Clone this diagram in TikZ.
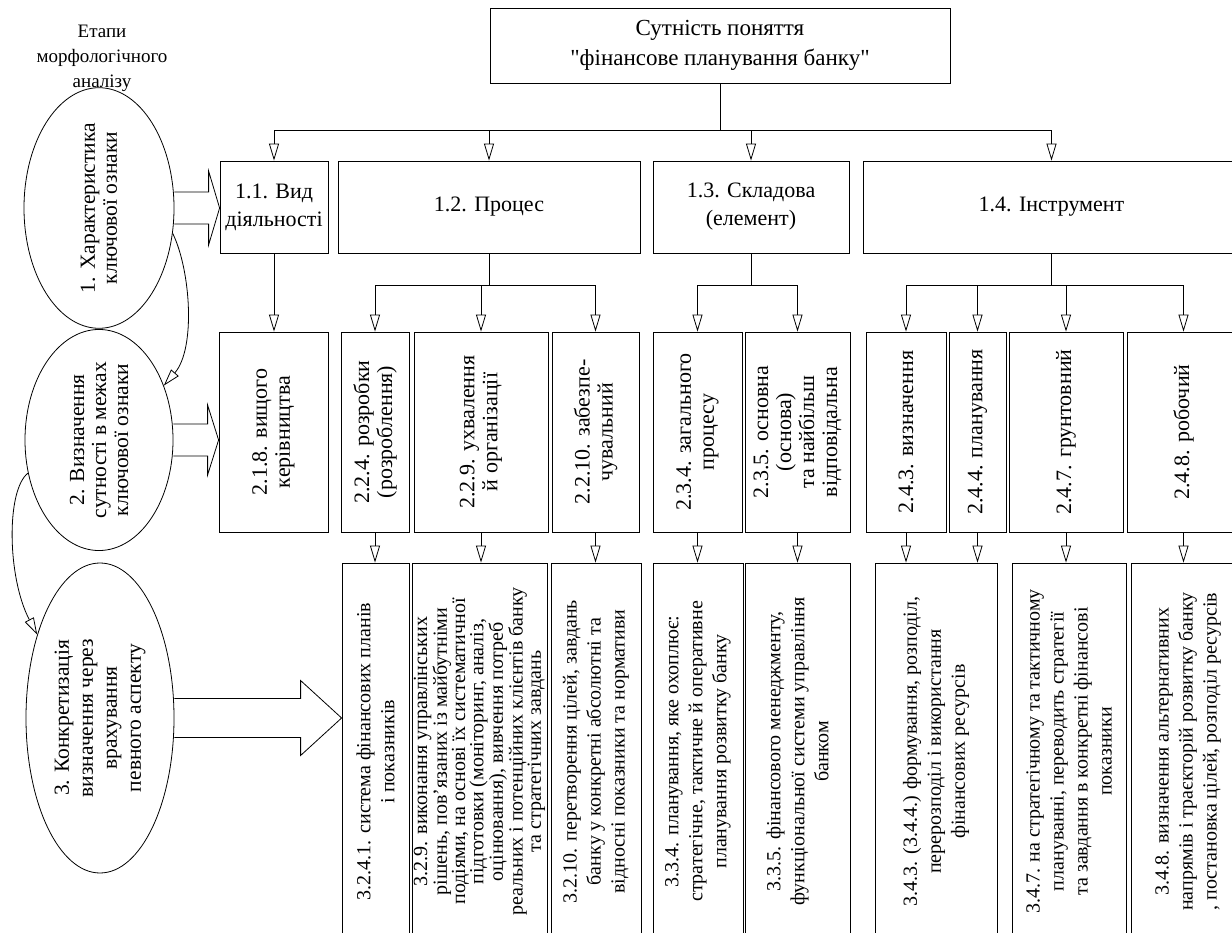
\documentclass[tikz,border=0pt]{standalone}
\usepackage{fontspec}
\setmainfont{Liberation Serif}[Ligatures=TeXOff]
\usetikzlibrary{arrows.meta, shapes.geometric, calc}

\begin{document}
\begin{tikzpicture}[x=1pt, y=-1pt,
  box/.style={draw, line width=0.8pt, inner sep=1pt, align=center},
  topbox/.style={box, minimum width=460pt, minimum height=75pt, font=\fontsize{23}{30}\selectfont},
  lvla/.style={box, minimum height=92pt, font=\fontsize{22}{28}\selectfont},
  lvlb/.style={box, rotate=90, minimum width=200pt, font=\fontsize{22}{23}\selectfont},
  lvlc/.style={box, rotate=90, minimum width=377pt, font=\fontsize{20}{24}\selectfont},
  stage/.style={draw, ellipse, line width=0.8pt, rotate=90, inner sep=0pt, align=center, font=\fontsize{21.5}{22}\selectfont},
  arr/.style={-{Triangle[open, length=17pt, width=10pt]}, line width=0.8pt},
  blk/.style={line width=0.8pt}]

\useasboundingbox (0,0) rectangle (1232,933);
\clip (0,0) rectangle (1232,933);

% stages of the analysis (rotated: south = right side)
\node[align=center, font=\fontsize{19}{25}\selectfont] (hdr) at (102,58) {Етапи\\морфологічного\\аналізу};
\node[stage, minimum width=216pt, minimum height=150pt] (e1) at (99,208) {1. Характеристика\\ключової ознаки};
\node[stage, minimum width=220pt, minimum height=148pt] (e2) at (99,440) {2. Визначення\\сутності в межах\\ключової ознаки};
\node[stage, minimum width=310pt, minimum height=148pt, font=\fontsize{21.5}{24}\selectfont] (e3) at (100,718) {3. Конкретизація\\визначення через\\врахування\\певного аспекту};

% root and first level
\node[topbox] (top) at (720,45.5) {Сутність поняття\\"фінансове планування банку"};
\node[lvla, minimum width=108pt] (a11) at (274,207) {1.1. Вид\\діяльності};
\node[lvla, minimum width=302pt] (a12) at (489,207) {1.2. Процес};
\node[lvla, minimum width=196pt] (a13) at (751,207) {1.3. Складова\\(елемент)};
\node[lvla, minimum width=377pt] (a14) at (1051.5,207) {1.4. Інструмент};

% second level (rotated: east = top, west = bottom)
\node[lvlb, minimum height=109pt] (b218) at (273.5,432) {2.1.8. вищого\\керівництва};
\node[lvlb, minimum height=68pt] (b224) at (375,432) {2.2.4. розробки\\(розроблення)};
\node[lvlb, minimum height=134pt] (b229) at (481,432) {2.2.9. ухвалення\\й організації};
\node[lvlb, minimum height=87pt] (b2210) at (595.5,432) {2.2.10. забезпе-\\чувальний};
\node[lvlb, minimum height=89pt] (b234) at (697.5,432) {2.3.4. загального\\процесу};
\node[lvlb, minimum height=105pt] (b235) at (797.5,432) {2.3.5. основна\\(основа)\\та найбільш\\відповідальна};
\node[lvlb, minimum height=80pt] (b243) at (906,432) {2.4.3. визначення};
\node[lvlb, minimum height=57pt] (b244) at (977.5,432) {2.4.4. планування};
\node[lvlb, minimum height=114pt] (b247) at (1066,432) {2.4.7. грунтовний};
\node[lvlb, minimum height=113pt] (b248) at (1183.5,432) {2.4.8. робочий};

% third level
\node[lvlc, minimum height=67pt] (c3241) at (375.5,751.5) {3.2.4.1. система фінансових планів\\і показників};
\node[lvlc, minimum height=135pt, font=\fontsize{20}{18.3}\selectfont] (c329) at (479.5,751.5) {3.2.9. виконання управлінських\\рішень, пов’язаних із майбутніми\\подіями, на основі їх систематичної\\підготовки (моніторинг, аналіз,\\оцінювання), вивчення потреб\\реальних і потенційних клієнтів банку\\та стратегічних завдань};
\node[lvlc, minimum height=90pt] (c3210) at (596,751.5) {3.2.10. перетворення цілей, завдань\\банку у конкретні абсолютні та\\відносні показники та нормативи};
\node[lvlc, minimum height=90pt] (c334) at (698,751.5) {3.3.4. планування, яке охоплює:\\стратегічне, тактичне й оперативне\\планування розвитку банку};
\node[lvlc, minimum height=105pt] (c335) at (797.5,751.5) {3.3.5. фінансового менеджменту,\\функціональної системи управління\\банком};
\node[lvlc, minimum height=122pt] (c343) at (936,751.5) {3.4.3. (3.4.4.) формування, розподіл,\\перерозподіл і використання\\фінансових ресурсів};
\node[lvlc, minimum height=114pt] (c347) at (1069,751.5) {3.4.7. на стратегічному та тактичному\\плануванні, переводить стратегії\\та завдання в конкретні фінансові\\показники};
\node[lvlc, minimum height=114pt] (c348) at (1188,751.5) {3.4.8. визначення альтернативних\\напрямів і траєкторій розвитку банку\\, постановка цілей, розподіл ресурсів};

% tree connectors
\foreach \n in {a11,a12,a13,a14}
  \draw[arr] (top.south) -- ++(0,47) -| (\n.north);
\draw[arr] (a11.south) -- (a11.south |- b218.east);
\foreach \n in {b224,b229,b2210}
  \draw[arr] (a12.south) -- ++(0,32) -| (\n.east);
\foreach \n in {b234,b235}
  \draw[arr] (a13.south) -- ++(0,32) -| (\n.east);
\foreach \n in {b243,b244,b247,b248}
  \draw[arr] (a14.south) -- ++(0,32) -| (\n.east);
\draw[arr] (b224.west) -- (b224.west |- c3241.east);
\draw[arr] (b229.west) -- (b229.west |- c329.east);
\draw[arr] (b2210.west) -- (b2210.west |- c3210.east);
\draw[arr] (b234.west) -- (b234.west |- c334.east);
\draw[arr] (b235.west) -- (b235.west |- c335.east);
\draw[arr] (b243.west) -- (b243.west |- c343.east);
\draw[arr] (b244.west) -- (b244.west |- c343.east);
\draw[arr] (b247.west) -- (b247.west |- c347.east);
\draw[arr] (b248.west) -- (b248.west |- c348.east);

% stage to stage
\draw[arr] (e1.-109) .. controls +(18,37) and +(32,-37) .. (e2.-50);
\draw[arr] (e2.115) .. controls +(-22,17) and +(-30,-57) .. (e3.37);

% block arrows from the stages
\draw[blk] ($(e1.south)+(0,-16)$) -- ($(a11.west |- e1.center)+(-11,-16)$) -- ++(0,-21)
  -- (a11.west |- e1.center) -- ++(-11,37) -- ++(0,-21) -- ($(e1.south)+(0,16)$);
\draw[blk] ($(e2.south)+(0,-16)$) -- ($(b218.north |- e2.center)+(-11,-16)$) -- ++(0,-19)
  -- (b218.north |- e2.center) -- ++(-11,35) -- ++(0,-19) -- ($(e2.south)+(0,16)$);
\draw[blk] ($(e3.south)+(0,-19.5)$) -- ($(c3241.north |- e3.center)+(-41,-19.5)$) -- ++(0,-18)
  -- (c3241.north |- e3.center) -- ++(-41,37.5) -- ++(0,-18) -- ($(e3.south)+(0,19.5)$);
\end{tikzpicture}
\end{document}
